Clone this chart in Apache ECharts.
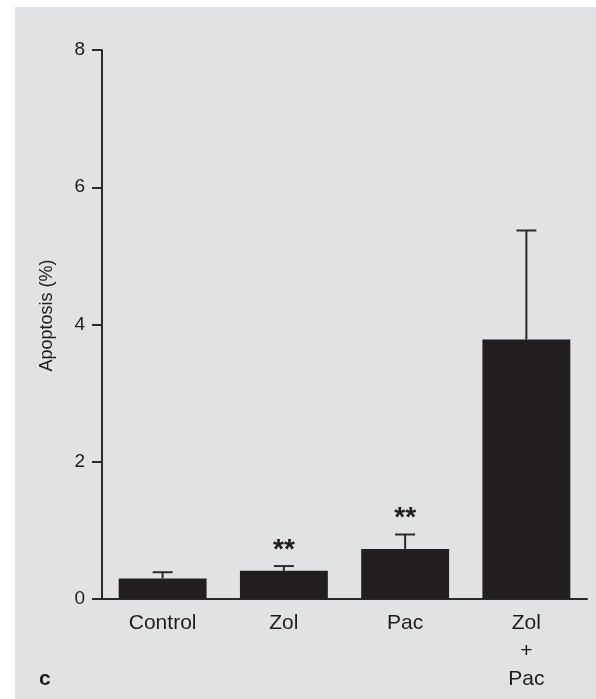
<!DOCTYPE html>
<html>
<head>
<meta charset="utf-8">
<script src="https://cdn.jsdelivr.net/npm/echarts@6/dist/echarts.min.js"></script>
<style>
html,body{margin:0;padding:0;background:#ffffff;}
#bg{position:absolute;left:15px;top:7px;right:0;bottom:0;background:#e1e2e4;}
#chart{position:absolute;left:0;top:0;width:596px;height:699px;}
</style>
</head>
<body>
<div id="bg"></div>
<div id="chart"></div>
<script>
const categories = ['Control', 'Zol', 'Pac', 'Zol\n+\nPac'];
const meanValues = [0.30, 0.41, 0.73, 3.78];
const errorValues = [0.09, 0.07, 0.21, 1.59];
const significance = ['', '**', '**', ''];
const yAxisMin = 0;
const yAxisMax = 8;
const yAxisStep = 2;
const yAxisTitle = 'Apoptosis (%)';
const panelLetter = 'c';

const ink = '#1f1c1d';
const font = '"Liberation Sans", Arial, sans-serif';

const chart = echarts.init(document.getElementById('chart'), null, {renderer: 'canvas'});

const errorData = categories.map((c, i) => [i, meanValues[i], meanValues[i] + errorValues[i]]);

const option = {
  backgroundColor: 'transparent',
  animation: false,
  title: {
    text: panelLetter,
    left: 34,
    top: 664,
    textStyle: {fontFamily: font, fontSize: 21, fontWeight: 'bold', color: ink}
  },
  grid: {left: 102, right: 9, top: 50, bottom: 100, containLabel: false},
  xAxis: {
    type: 'category',
    data: categories,
    axisLine: {show: true, lineStyle: {color: '#2a2a2a', width: 2}},
    axisTick: {show: false},
    axisLabel: {
      fontFamily: font, fontSize: 21, color: ink, margin: 10, lineHeight: 28,
      interval: 0
    }
  },
  yAxis: {
    type: 'value',
    min: yAxisMin,
    max: yAxisMax,
    interval: yAxisStep,
    name: yAxisTitle,
    nameLocation: 'middle',
    nameGap: 46,
    nameTextStyle: {fontFamily: font, fontSize: 18, color: ink, padding: [0, 0, 0, 18]},
    axisLine: {show: true, lineStyle: {color: '#2a2a2a', width: 2}},
    axisTick: {show: true, length: 10, lineStyle: {color: '#2a2a2a', width: 2}},
    axisLabel: {fontFamily: font, fontSize: 19, color: ink, margin: 17},
    splitLine: {show: false}
  },
  series: [
    {
      type: 'bar',
      data: meanValues,
      barWidth: '72.5%',
      itemStyle: {color: '#231f20'},
      z: 2
    },
    {
      type: 'custom',
      data: errorData,
      z: 3,
      renderItem: function (params, api) {
        const i = api.value(0);
        const base = api.coord([i, api.value(1)]);
        const top = api.coord([i, api.value(2)]);
        const half = 10;
        const children = [
          {type: 'line', shape: {x1: base[0], y1: base[1], x2: top[0], y2: top[1]},
           style: {stroke: '#2a2a2a', lineWidth: 2}},
          {type: 'line', shape: {x1: top[0] - half, y1: top[1], x2: top[0] + half, y2: top[1]},
           style: {stroke: '#2a2a2a', lineWidth: 2}}
        ];
        const sig = significance[params.dataIndex];
        if (sig) {
          children.push({
            type: 'text',
            x: top[0],
            y: top[1] - 2,
            style: {
              text: sig, fontFamily: font, fontSize: 28, fontWeight: 'bold', fill: ink,
              align: 'center', verticalAlign: 'bottom'
            }
          });
        }
        return {type: 'group', children: children};
      }
    }
  ]
};
chart.setOption(option);
</script>
</body>
</html>
